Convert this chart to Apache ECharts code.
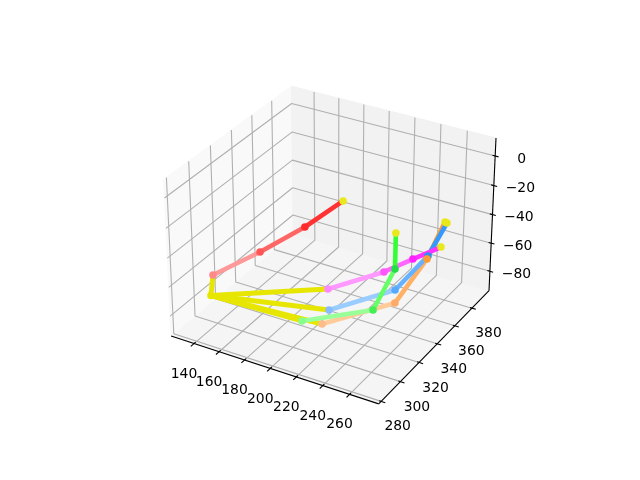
<!DOCTYPE html><html><head><meta charset="utf-8">
<script src="https://cdn.jsdelivr.net/npm/echarts@6/dist/echarts.min.js"></script></head>
<body style="margin:0;background:#fff"><div id="c" style="width:640px;height:480px"></div>
<script>
// Tick values
const xTicks=[140,160,180,200,220,240,260];
const yTicks=[280,300,320,340,360,380];
const zTicks=[-80,-60,-40,-20,0];
// Axis limits
const xLim=[121.5,281.5], yLim=[277.5,400.5], zLim=[-94,12];
// Joints [x,y,z]
const wrist=[[140.1,294.5,-71]];
const thumb=[[142.5,294.3,-56],[179.6,294.9,-31],[208.5,301.8,-11],[230.9,309.8,7]];
const indexF=[[190.1,348.8,-86],[221.6,366.4,-76],[235.1,379.5,-71],[248.7,391.6,-66]];
const middle=[[201.7,334.5,-89],[231.0,365.8,-86],[250.9,373.2,-61],[267.8,368.1,-31]];
const ring=[[191.0,320.5,-91],[227.8,346.1,-89],[239.6,352.8,-61],[239.9,352.6,-36]];
const pinky=[[203.9,324.4,-92],[239.0,354.2,-86],[256.5,363.6,-56],[270.4,361.7,-26]];
// Colours
const yellow='#e6e600', tipYellow='#e8e81a';
const thumbLines=['#ff9999','#ff6666','#ff3333'], thumbDots=['#ff8888','#ff5555','#ff2a2a'];
const indexLines=['#ff99ff','#ff66ff','#ff33ff'], indexDots=['#ff88ff','#ff55ff','#ff22ff'];
const middleLines=['#99ccff','#66b2ff','#3399ff'], middleDots=['#88bbff','#55aaff','#2f8fee'];
const ringLines=['#99ff99','#66ff66','#33ff33'], ringDots=['#88ff88','#44ee55','#22dd44'];
const pinkyLines=['#ffcc99','#ffb266','#ff9933'], pinkyDots=['#ffbb88','#ffaa66','#ff9933'];

// matplotlib-style perspective (elev 30, azim -60, dist 10)
const rad=Math.PI/180, el=30*rad, az=-60*rad, D=10;
const nA=Math.hypot(4,4,3), kA=1.8294640721620434*25/24/nA, asp=[4*kA,4*kA,3*kA];
const wv=[Math.cos(el)*Math.cos(az),Math.cos(el)*Math.sin(az),Math.sin(el)];
const E=asp.map((a,i)=>a/2+D*wv[i]);
const cross=(a,b)=>[a[1]*b[2]-a[2]*b[1],a[2]*b[0]-a[0]*b[2],a[0]*b[1]-a[1]*b[0]];
let u=cross([0,0,1],wv); const un=Math.hypot(...u); u=u.map(a=>a/un);
const v=cross(wv,u);
const dot=(a,b)=>a[0]*b[0]+a[1]*b[1]+a[2]*b[2];
function proj(p){
  const b=[(p[0]-xLim[0])/(xLim[1]-xLim[0])*asp[0],(p[1]-yLim[0])/(yLim[1]-yLim[0])*asp[1],(p[2]-zLim[0])/(zLim[1]-zLim[0])*asp[2]];
  const q=b.map((c,i)=>c-E[i]); const w=-dot(q,wv);
  return [143.2+(dot(q,u)/w+0.095)/0.185*369.6, 427.2-(dot(q,v)/w+0.095)/0.185*369.6];
}
const [x0,x1]=xLim,[y0,y1]=yLim,[z0,z1]=zLim;
const series=[];
function pane(corners,color){
  const pts=corners.map(proj);
  series.push({type:'custom',coordinateSystem:'cartesian2d',silent:true,z:1,clip:false,data:[0],
    renderItem:(p,api)=>({type:'polygon',shape:{points:pts.map(c=>api.coord(c))},style:{fill:color,stroke:color,lineWidth:1}})});
}
pane([[x0,y0,z0],[x1,y0,z0],[x1,y1,z0],[x0,y1,z0]],'#f5f5f5');
pane([[x0,y0,z0],[x0,y1,z0],[x0,y1,z1],[x0,y0,z1]],'#f9f9f9');
pane([[x0,y1,z0],[x1,y1,z0],[x1,y1,z1],[x0,y1,z1]],'#f2f2f2');
function line(pts,color,width,z){
  series.push({type:'line',data:pts.map(proj),showSymbol:false,symbol:'none',silent:true,z,clip:false,
    lineStyle:{color,width,cap:'butt',join:'round'},emphasis:{disabled:true}});
}
const gridC='#b0b0b0', gw=1.1;
xTicks.forEach(t=>line([[t,y0,z0],[t,y1,z0],[t,y1,z1]],gridC,gw,2));
yTicks.forEach(t=>line([[x1,t,z0],[x0,t,z0],[x0,t,z1]],gridC,gw,2));
zTicks.forEach(t=>line([[x0,y0,t],[x0,y1,t],[x1,y1,t]],gridC,gw,2));
line([[x0,y0,z0],[x1,y0,z0]],'#000',1.1,3);
line([[x1,y0,z0],[x1,y1,z0]],'#000',1.1,3);
line([[x1,y1,z0],[x1,y1,z1]],'#000',1.1,3);
xTicks.forEach(t=>line([[t,y0+1.5,z0],[t,y0-3,z0]],'#000',1.1,3));
yTicks.forEach(t=>line([[x1-1.5,t,z0],[x1+3,t,z0]],'#000',1.1,3));
zTicks.forEach(t=>line([[x1-2,y1,t],[x1+2.5,y1,t]],'#000',1.1,3));
function labels(items,dx,dy){
  series.push({type:'custom',coordinateSystem:'cartesian2d',silent:true,z:4,clip:false,data:items.map((_,i)=>i),
    renderItem:(p,api)=>{const it=items[api.value(0)];const c=api.coord(proj(it.p));
      return {type:'text',style:{text:it.t,x:c[0]+dx,y:c[1]+dy,align:'center',verticalAlign:'middle',fill:'#000',font:'13.9px "DejaVu Sans"'}};},
    encode:{x:0,y:0}});
}
labels(xTicks.map(t=>({t:String(t),p:[t,y0,z0]})),-10,30.5);
labels(yTicks.map(t=>({t:String(t),p:[x1,t,z0]})),16.5,25.5);
labels(zTicks.map(t=>({t:String(t).replace('-','\u2212'),p:[x1,y1,t]})),26.5,3.2);
// Finger lines
const W=wrist[0], LW=4.6;
[thumb,pinky,middle,indexF,ring].forEach(f=>line([W,f[0]],yellow,LW+0.4,5));
const fingers=[[thumb,thumbLines,thumbDots],[pinky,pinkyLines,pinkyDots],[middle,middleLines,middleDots],[indexF,indexLines,indexDots],[ring,ringLines,ringDots]];
fingers.forEach(([f,ls],k)=>{ls.forEach((c,i)=>line([f[i],f[i+1]],c,LW,6+k));});
function dots(pts,color,z){
  series.push({type:'scatter',data:pts.map(proj),symbol:'circle',symbolSize:7.5,silent:true,z,clip:false,
    itemStyle:{color,opacity:1},emphasis:{disabled:true}});
}
dots(wrist,yellow,12);
[fingers[0],fingers[2],fingers[3],fingers[4],fingers[1]].forEach(([f,,ds])=>{ds.forEach((c,i)=>dots([f[i]],c,12));dots([f[3]],tipYellow,12);});
const chart=echarts.init(document.getElementById('c'),null,{renderer:'canvas',width:640,height:480});
chart.setOption({animation:false,backgroundColor:'#fff',tooltip:{show:false},legend:{show:false},
  grid:{left:0,right:0,top:0,bottom:0},
  xAxis:{type:'value',min:0,max:640,show:false},
  yAxis:{type:'value',min:0,max:480,inverse:true,show:false},
  series});
</script></body></html>
